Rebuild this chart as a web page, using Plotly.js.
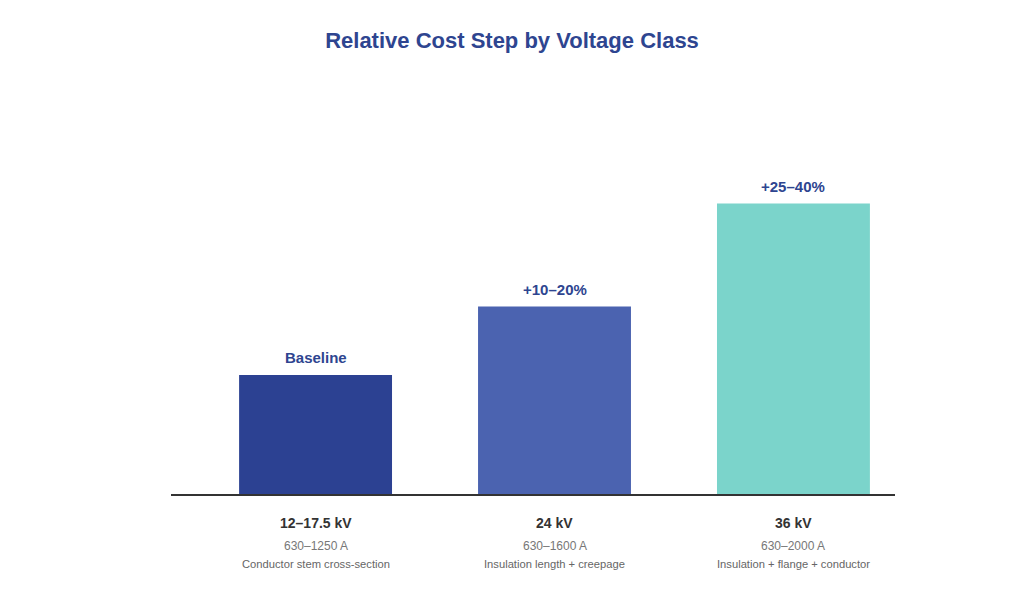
<!DOCTYPE html>
<html>
<head>
<meta charset="utf-8">
<script src="https://cdn.plot.ly/plotly-3.0.1.min.js"></script>
<style>
  html, body { margin: 0; padding: 0; background: #fff; }
  #chart { width: 1024px; height: 597px; }
</style>
</head>
<body>
<div id="chart"></div>
<script>
// relative cost, baseline = 1.0
const classes = ['12–17.5 kV', '24 kV', '36 kV'];
const relCost = [1.0, 1.575, 2.44];
const stepLabels = ['Baseline', '+10–20%', '+25–40%'];
const currents = ['630–1250 A', '630–1600 A', '630–2000 A'];
const drivers = ['Conductor stem cross-section', 'Insulation length + creepage', 'Insulation + flange + conductor'];
const barColors = ['#2c4192', '#4b63b0', '#7bd4cb'];

const FONT = 'Liberation Sans, Arial, sans-serif';
const xs = classes.map((c, i) => i);

let annotations = [];
xs.forEach((x, i) => {
    // label above each bar
    annotations.push({
        x: x, y: relCost[i], xref: 'x', yref: 'y',
        text: '<b>' + stepLabels[i] + '</b>',
        showarrow: false, yanchor: 'bottom', yshift: 7,
        font: { family: FONT, size: 15, color: '#2e4590' }
    });
    // category block under the axis
    annotations.push({
        x: x, y: 0, xref: 'x', yref: 'y',
        text: '<b>' + classes[i] + '</b>',
        showarrow: false, yanchor: 'middle', yshift: -29,
        font: { family: FONT, size: 14, color: '#333333' }
    });
    annotations.push({
        x: x, y: 0, xref: 'x', yref: 'y',
        text: currents[i],
        showarrow: false, yanchor: 'middle', yshift: -52,
        font: { family: FONT, size: 12, color: '#777777' }
    });
    annotations.push({
        x: x, y: 0, xref: 'x', yref: 'y',
        text: drivers[i],
        showarrow: false, yanchor: 'middle', yshift: -70,
        font: { family: FONT, size: 11.2, color: '#666666' }
    });
});

Plotly.newPlot('chart', [{
    type: 'bar',
    x: xs,
    y: relCost,
    width: 0.64,
    marker: { color: barColors, line: { width: 0 } },
    hoverinfo: 'skip'
}], {
    width: 1024,
    height: 597,
    paper_bgcolor: '#ffffff',
    plot_bgcolor: '#ffffff',
    margin: { l: 171, r: 129, t: 100, b: 103 },
    title: {
        text: '<b>Relative Cost Step by Voltage Class</b>',
        x: 0.5, xanchor: 'center',
        y: 0.932, yanchor: 'middle',
        font: { family: FONT, size: 22, color: '#2e4590' }
    },
    xaxis: {
        range: [-0.605, 2.425],
        showticklabels: false,
        ticks: '',
        showgrid: false,
        zeroline: false,
        showline: true,
        linecolor: '#333333',
        linewidth: 1.5,
        fixedrange: true
    },
    yaxis: {
        range: [0, 3.31],
        visible: false,
        showgrid: false,
        zeroline: false,
        fixedrange: true
    },
    annotations: annotations,
    showlegend: false
}, { displayModeBar: false, staticPlot: true });
</script>
</body>
</html>
